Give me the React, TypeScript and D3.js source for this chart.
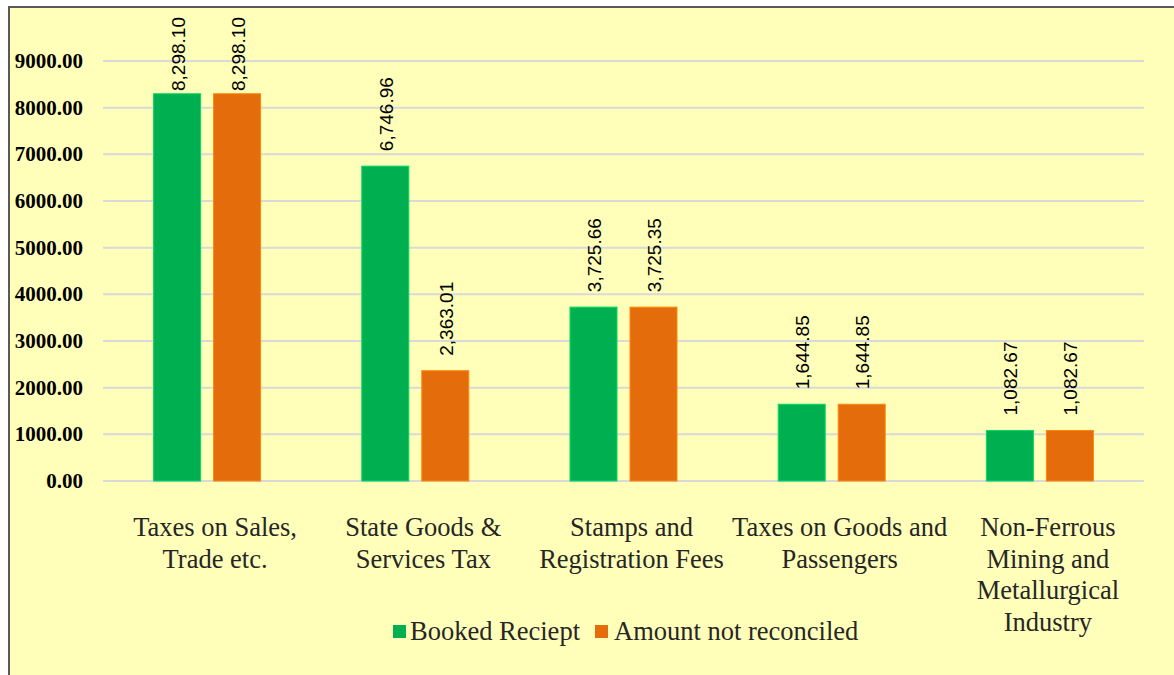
import React from 'react';
import * as d3 from 'd3';

const categories = [
  ['Taxes on Sales,', 'Trade etc.'],
  ['State Goods &', 'Services Tax'],
  ['Stamps and', 'Registration Fees'],
  ['Taxes on Goods and', 'Passengers'],
  ['Non-Ferrous', 'Mining and', 'Metallurgical', 'Industry'],
];
const bookedReceipt = [8298.10, 6746.96, 3725.66, 1644.85, 1082.67];
const notReconciled = [8298.10, 2363.01, 3725.35, 1644.85, 1082.67];
const seriesNames = ['Booked Reciept', 'Amount not reconciled'];
const seriesColors = ['#00B050', '#E46C0A'];
const yTicks = [0, 1000, 2000, 3000, 4000, 5000, 6000, 7000, 8000, 9000];

const W = 1174;
const H = 675;
const plotLeft = 103;
const plotRight = 1144;
const plotBottom = 481;
const plotTop = 61;

const fmt = d3.format(',.2f');

export default function App() {
  const keys = categories.map((c) => c.join(' '));
  const x0 = d3.scaleBand().domain(keys).range([plotLeft, plotRight]);
  const half = 53.5;
  const x1 = d3
    .scaleBand()
    .domain(seriesNames)
    .range([x0.bandwidth() / 2 - half, x0.bandwidth() / 2 + half])
    .paddingInner(13 / 60);
  const y = d3.scaleLinear().domain([0, 9000]).range([plotBottom, plotTop]);

  const series = [bookedReceipt, notReconciled];
  const labelLen = 74;

  return (
    <svg
      width={W}
      height={H}
      style={{ position: 'fixed', left: 0, top: 0, display: 'block' }}
    >
      <rect x={0} y={0} width={W} height={H} fill="#ffffff" />
      <rect x={9} y={7} width={W + 20} height={H + 20} fill="#FFFFB9" stroke="#595959" strokeWidth={2} />

      {/* gridlines + y labels */}
      {yTicks.map((t) => (
        <g key={t}>
          <line x1={plotLeft} x2={plotRight} y1={y(t)} y2={y(t)} stroke="#D9D9D9" strokeWidth={2} />
          <text
            x={83}
            y={y(t)}
            textAnchor="end"
            dominantBaseline="central"
            fontFamily="'Liberation Serif', 'Times New Roman', serif"
            fontWeight="bold"
            fontSize={21}
            fill="#000"
          >
            {t.toFixed(2)}
          </text>
        </g>
      ))}

      {/* bars */}
      {keys.map((k, i) => (
        <g key={k} transform={`translate(${x0(k)},0)`}>
          {seriesNames.map((s, j) => {
            const v = series[j][i];
            const bx = x1(s)!;
            const by = y(v);
            const cx = bx + x1.bandwidth() / 2;
            let ly = by - 15;
            if (ly - labelLen < 17) ly = 17 + labelLen;
            return (
              <g key={s}>
                <rect
                  x={bx}
                  y={by}
                  width={x1.bandwidth()}
                  height={plotBottom - by}
                  fill={seriesColors[j]}
                  stroke={d3.color(seriesColors[j])!.brighter(0.6).toString()}
                  strokeWidth={1}
                />
                <text
                  transform={`translate(${cx + 1},${ly}) rotate(-90)`}
                  dominantBaseline="central"
                  fontFamily="'Liberation Sans', Arial, sans-serif"
                  fontSize={19}
                  fill="#000"
                >
                  {fmt(v)}
                </text>
              </g>
            );
          })}
        </g>
      ))}

      {/* category labels */}
      {categories.map((lines, i) => {
        const cx = x0(keys[i])! + x0.bandwidth() / 2 + 8;
        return (
          <text
            key={i}
            x={cx}
            y={536}
            textAnchor="middle"
            fontFamily="'Liberation Serif', 'Times New Roman', serif"
            fontSize={26.5}
            fill="#262626"
          >
            {lines.map((l, li) => (
              <tspan key={li} x={cx} dy={li === 0 ? 0 : 31.5}>
                {l}
              </tspan>
            ))}
          </text>
        );
      })}

      {/* legend */}
      <g fontFamily="'Liberation Serif', 'Times New Roman', serif" fontSize={26.5} fill="#262626">
        <rect x={393} y={625} width={13} height={13} fill={seriesColors[0]} />
        <text x={410} y={640}>{seriesNames[0]}</text>
        <rect x={595} y={625} width={13} height={13} fill={seriesColors[1]} />
        <text x={614} y={640}>{seriesNames[1]}</text>
      </g>
    </svg>
  );
}
